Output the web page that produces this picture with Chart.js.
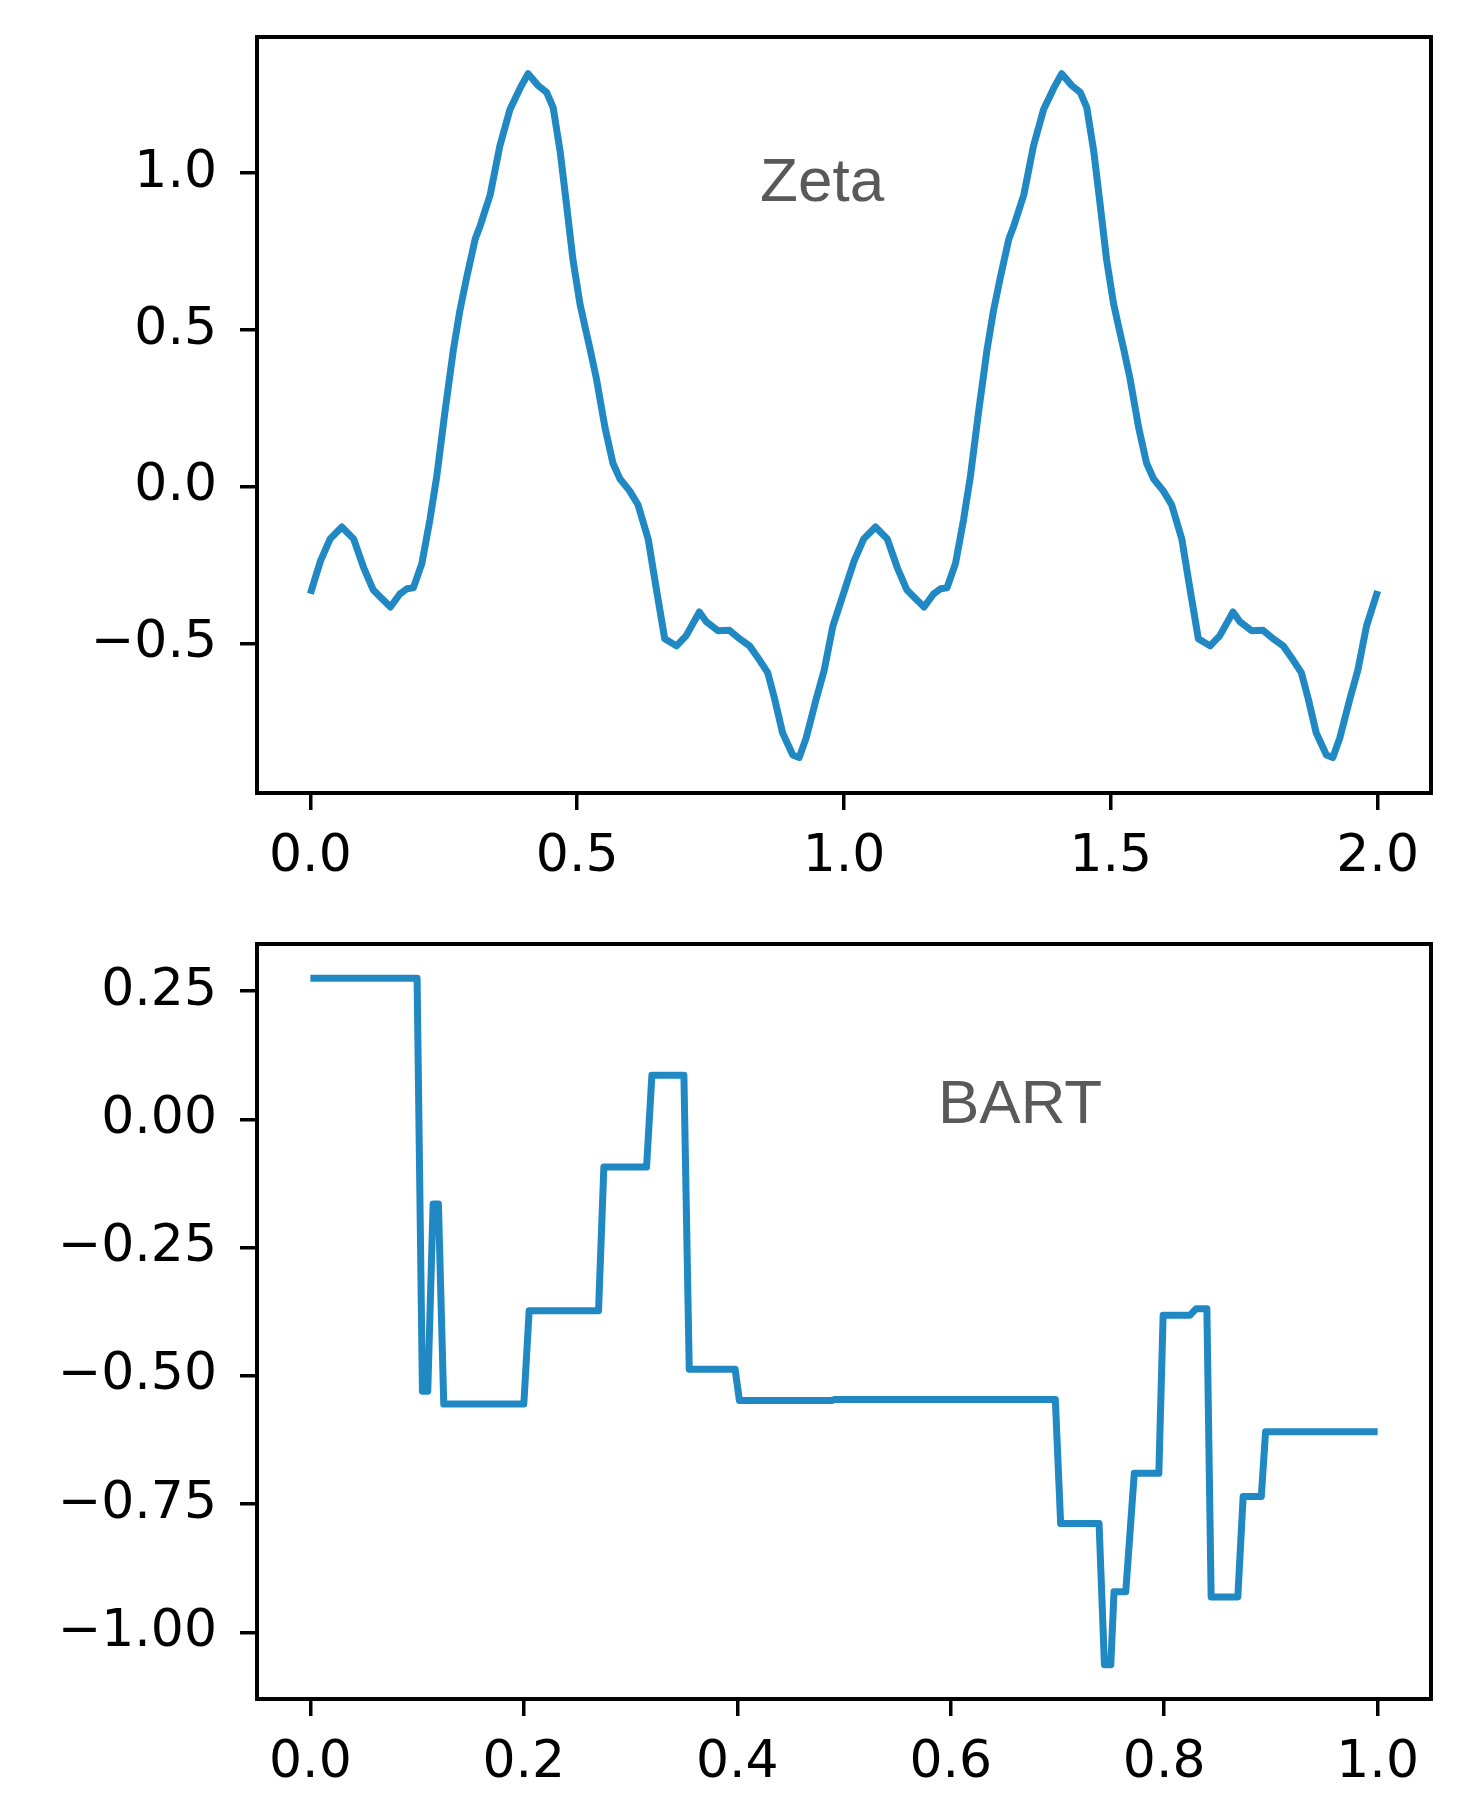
<!DOCTYPE html>
<html>
<head>
<meta charset="utf-8">
<title>Zeta / BART</title>
<script src="https://cdn.jsdelivr.net/npm/chart.js@4.4.1/dist/chart.umd.min.js"></script>
<style>
  html, body { margin: 0; padding: 0; background: #fff; }
  #wrap { position: relative; width: 1461px; height: 1800px; }
  canvas { position: absolute; left: 0; }
  #zeta { top: 0; }
  #bart { top: 900px; }
</style>
</head>
<body>
<div id="wrap">
  <canvas id="zeta" width="1461" height="900"></canvas>
  <canvas id="bart" width="1461" height="900"></canvas>
</div>
<script>
// top panel (two identical periods)
const zetaX = [
  0, 0.019, 0.037, 0.059, 0.081, 0.100, 0.118, 0.131, 0.150, 0.168, 0.181, 0.193, 0.209, 0.224, 0.237,
  0.252, 0.268, 0.280, 0.293, 0.309, 0.318, 0.337, 0.355, 0.374, 0.393, 0.408, 0.427, 0.443, 0.455,
  0.468, 0.480, 0.492, 0.505, 0.516, 0.524, 0.536, 0.552, 0.567, 0.580, 0.598, 0.614, 0.633, 0.648,
  0.664, 0.686, 0.704, 0.729, 0.742, 0.764, 0.785, 0.804, 0.823, 0.842, 0.857, 0.870, 0.885, 0.904,
  0.916, 0.929, 0.948, 0.963, 0.979, 1.000,
  1.019, 1.037, 1.059, 1.081, 1.100, 1.118, 1.131, 1.150, 1.168, 1.181, 1.193, 1.209, 1.224, 1.237,
  1.252, 1.268, 1.280, 1.293, 1.309, 1.318, 1.337, 1.355, 1.374, 1.393, 1.408, 1.427, 1.443, 1.455,
  1.468, 1.480, 1.492, 1.505, 1.516, 1.524, 1.536, 1.552, 1.567, 1.580, 1.598, 1.614, 1.633, 1.648,
  1.664, 1.686, 1.704, 1.729, 1.742, 1.764, 1.785, 1.804, 1.823, 1.842, 1.857, 1.870, 1.885, 1.904,
  1.916, 1.929, 1.948, 1.963, 1.979, 2.000
];
const zetaY = [
  -0.341, -0.236, -0.166, -0.128, -0.166, -0.258, -0.329, -0.351, -0.383, -0.341, -0.325, -0.322, -0.244, -0.105, 0.035,
  0.236, 0.437, 0.560, 0.668, 0.791, 0.831, 0.931, 1.086, 1.203, 1.271, 1.317, 1.279, 1.257, 1.209,
  1.070, 0.900, 0.725, 0.585, 0.500, 0.440, 0.345, 0.190, 0.075, 0.026, -0.012, -0.057, -0.166, -0.322,
  -0.484, -0.507, -0.475, -0.399, -0.430, -0.459, -0.457, -0.484, -0.507, -0.553, -0.592, -0.676, -0.785, -0.855,
  -0.863, -0.801, -0.676, -0.584, -0.445, -0.335,
  -0.236, -0.166, -0.128, -0.166, -0.258, -0.329, -0.351, -0.383, -0.341, -0.325, -0.322, -0.244, -0.105, 0.035,
  0.236, 0.437, 0.560, 0.668, 0.791, 0.831, 0.931, 1.086, 1.203, 1.271, 1.317, 1.279, 1.257, 1.209,
  1.070, 0.900, 0.725, 0.585, 0.500, 0.440, 0.345, 0.190, 0.075, 0.026, -0.012, -0.057, -0.166, -0.322,
  -0.484, -0.507, -0.475, -0.399, -0.430, -0.459, -0.457, -0.484, -0.507, -0.553, -0.592, -0.676, -0.785, -0.855,
  -0.863, -0.801, -0.676, -0.584, -0.445, -0.332
];

// bottom panel, step changes
const bartX = [
  0, 0.100, 0.105, 0.110, 0.115, 0.120, 0.125, 0.200, 0.205, 0.270,
  0.275, 0.315, 0.320, 0.350, 0.355, 0.398, 0.402, 0.488, 0.492, 0.698,
  0.703, 0.739, 0.744, 0.750, 0.753, 0.764, 0.772, 0.795, 0.799, 0.824,
  0.830, 0.840, 0.844, 0.869, 0.874, 0.891, 0.895, 1.000
];
const bartY = [
  0.275, 0.275, -0.530, -0.530, -0.165, -0.165, -0.555, -0.555, -0.373, -0.373,
  -0.093, -0.093, 0.086, 0.086, -0.487, -0.487, -0.548, -0.548, -0.546, -0.546,
  -0.788, -0.788, -1.063, -1.063, -0.921, -0.921, -0.690, -0.690, -0.382, -0.382,
  -0.369, -0.369, -0.931, -0.931, -0.735, -0.735, -0.609, -0.609
];

const zetaXTicks = [0, 0.5, 1, 1.5, 2];
const zetaYTicks = [-0.5, 0, 0.5, 1];
const bartXTicks = [0, 0.2, 0.4, 0.6, 0.8, 1];
const bartYTicks = [-1, -0.75, -0.5, -0.25, 0, 0.25];

const LINE = '#2089c3';
const TICK_FONT = { family: '"DejaVu Sans", sans-serif', size: 52 };

function fmt(v, d) {
  return v.toFixed(d).replace('-', '\u2212');
}

const framePlugin = {
  id: 'frame',
  afterDatasetsDraw(chart, args, opts) {
    const { ctx, chartArea: a, scales } = chart;
    ctx.save();
    ctx.strokeStyle = '#000';
    ctx.lineWidth = 4;
    ctx.strokeRect(a.left, a.top, a.right - a.left, a.bottom - a.top);
    ctx.fillStyle = '#595959';
    ctx.font = '62px "Liberation Sans", Arial, sans-serif';
    ctx.textAlign = 'center';
    ctx.textBaseline = 'alphabetic';
    ctx.fillText(opts.text, scales.x.getPixelForValue(opts.x), scales.y.getPixelForValue(opts.y));
    ctx.restore();
  }
};

function axis(ticks, min, max, dec, pad, extra) {
  return Object.assign({
    type: 'linear',
    min: min,
    max: max,
    afterBuildTicks: s => { s.ticks = ticks.map(v => ({ value: v })); },
    grid: {
      display: true,
      drawOnChartArea: false,
      drawTicks: true,
      tickLength: 17,
      tickWidth: 3.5,
      tickColor: '#000',
      lineWidth: 3.5,
      color: '#000'
    },
    border: { display: false },
    ticks: {
      color: '#000',
      font: TICK_FONT,
      padding: pad,
      maxRotation: 0,
      autoSkip: false,
      callback: v => fmt(v, dec)
    }
  }, extra);
}

function panel(id, xs, ys, o) {
  new Chart(document.getElementById(id), {
    type: 'line',
    data: {
      datasets: [{
        data: xs.map((x, i) => ({ x: x, y: ys[i] })),
        borderColor: LINE,
        borderWidth: 7,
        borderJoinStyle: 'round',
        pointRadius: 0,
        tension: 0,
        fill: false
      }]
    },
    options: {
      responsive: false,
      animation: false,
      events: [],
      layout: { padding: { left: 0, top: o.top, right: 30, bottom: 0 } },
      plugins: {
        legend: { display: false },
        tooltip: { enabled: false },
        frame: o.label
      },
      scales: {
        x: axis(o.xTicks, o.xMin, o.xMax, o.xDec, 16, {
          position: 'bottom',
          afterFit: s => { s.height = o.xHeight; s.paddingLeft = 0; s.paddingRight = 0; }
        }),
        y: axis(o.yTicks, o.yMin, o.yMax, o.yDec, 23, {
          position: 'left',
          afterFit: s => { s.width = 257; s.paddingTop = 0; s.paddingBottom = 0; }
        })
      }
    },
    plugins: [framePlugin]
  });
}

panel('zeta', zetaX, zetaY, {
  top: 37, xHeight: 107,
  xTicks: zetaXTicks, xMin: -0.1, xMax: 2.1, xDec: 1,
  yTicks: zetaYTicks, yMin: -0.976, yMax: 1.434, yDec: 1,
  label: { text: 'Zeta', x: 0.959, y: 0.91 }
});

panel('bart', bartX, bartY, {
  top: 44, xHeight: 101,
  xTicks: bartXTicks, xMin: -0.05, xMax: 1.05, xDec: 1,
  yTicks: bartYTicks, yMin: -1.13, yMax: 0.342, yDec: 2,
  label: { text: 'BART', x: 0.665, y: -0.007 }
});
</script>
</body>
</html>
